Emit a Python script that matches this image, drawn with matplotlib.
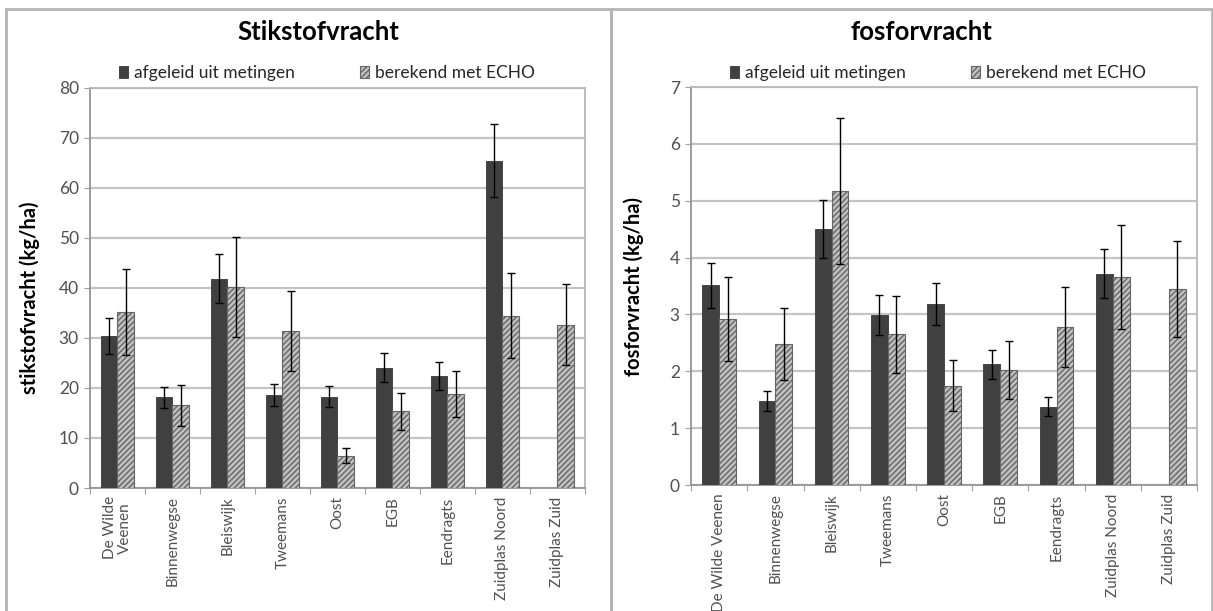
import matplotlib.pyplot as plt
from matplotlib.patches import Rectangle
import numpy as np

plt.rcParams['font.family'] = ['Lato', 'DejaVu Sans']
plt.rcParams['hatch.linewidth'] = 1.0

# gebieden
gebieden_n = ['De Wilde\nVeenen', 'Binnenwegse', 'Bleiswijk', 'Tweemans', 'Oost',
              'EGB', 'Eendragts', 'Zuidplas Noord', 'Zuidplas Zuid']
gebieden_p = ['De Wilde Veenen', 'Binnenwegse', 'Bleiswijk', 'Tweemans', 'Oost',
              'EGB', 'Eendragts', 'Zuidplas Noord', 'Zuidplas Zuid']

# stikstof (kg/ha)
n_meting = [30.3, 18.1, 41.8, 18.5, 18.2, 24.0, 22.3, 65.4, np.nan]
n_meting_err = [3.6, 2.1, 4.9, 2.2, 2.1, 2.9, 2.8, 7.3, np.nan]
n_echo = [35.1, 16.5, 40.1, 31.4, 6.4, 15.3, 18.8, 34.4, 32.6]
n_echo_err = [8.6, 4.1, 10.0, 8.0, 1.5, 3.7, 4.6, 8.5, 8.1]

# fosfor (kg/ha)
p_meting = [3.51, 1.48, 4.51, 2.99, 3.19, 2.12, 1.38, 3.72, np.nan]
p_meting_err = [0.40, 0.18, 0.51, 0.35, 0.37, 0.25, 0.17, 0.43, np.nan]
p_echo = [2.92, 2.48, 5.17, 2.65, 1.75, 2.03, 2.78, 3.66, 3.45]
p_echo_err = [0.74, 0.64, 1.29, 0.68, 0.45, 0.51, 0.71, 0.92, 0.85]

tekst = '#505050'


def staafgrafiek(ax, labels, meting, meting_err, echo, echo_err, ylabel, ymax, stap,
                 labelx, labely):
    x = np.arange(len(labels))
    w = 0.3
    b1 = ax.bar(x - w / 2, meting, w, color='#404040', edgecolor='#383838', linewidth=0.6,
                label='afgeleid uit metingen', zorder=3)
    b2 = ax.bar(x + w / 2, echo, w, color='#c0c0c0', edgecolor='#666666', hatch='//////',
                linewidth=0.8, label='berekend met ECHO', zorder=3)
    ax.errorbar(x - w / 2, meting, yerr=meting_err, fmt='none', ecolor='black',
                elinewidth=1, capsize=3, capthick=1, zorder=4)
    ax.errorbar(x + w / 2, echo, yerr=echo_err, fmt='none', ecolor='black',
                elinewidth=1, capsize=3, capthick=1, zorder=4)

    ax.set_xlim(-0.5, len(labels) - 0.5)
    ax.set_ylim(0, ymax)
    ax.set_yticks(np.arange(0, ymax + stap / 2, stap))
    ax.yaxis.grid(True, color='#c4c4c4', linewidth=1.6, zorder=0)

    # tick marks between categories, labels at the centres
    ax.set_xticks(np.arange(-0.5, len(labels)), minor=False)
    ax.set_xticklabels([])
    ax.set_xticks(x, minor=True)
    ax.set_xticklabels(labels, minor=True, rotation=90, fontsize=11, color=tekst,
                       linespacing=1.0)
    ax.tick_params(axis='x', which='minor', length=0, pad=6)
    ax.tick_params(axis='x', which='major', length=4, color='#a0a0a0')
    ax.tick_params(axis='y', length=4, color='#a0a0a0', labelsize=12.5,
                   labelcolor=tekst, pad=4)

    for s in ax.spines.values():
        s.set_color('#b8b8b8')
        s.set_linewidth(1.3)
    ax.spines['left'].set_color('#949494')
    ax.spines['bottom'].set_color('#949494')

    ax.set_ylabel(ylabel, fontsize=14.5, fontweight='bold', color='black')
    ax.yaxis.set_label_coords(labelx, labely)
    return b1, b2


fig = plt.figure(figsize=(12.13, 6.11), dpi=100)

ax1 = fig.add_axes([0.0742, 0.2013, 0.408, 0.655])
h1 = staafgrafiek(ax1, gebieden_n, n_meting, n_meting_err, n_echo, n_echo_err,
                  'stikstofvracht (kg/ha)', 80, 10, -0.101, 0.475)

ax2 = fig.add_axes([0.5697, 0.2062, 0.4172, 0.6514])
h2 = staafgrafiek(ax2, gebieden_p, p_meting, p_meting_err, p_echo, p_echo_err,
                  'fosforvracht (kg/ha)', 7, 1, -0.093, 0.5)

# titels en legenda's boven de grafieken
for cx, lx, titel, h in [(318, 327, 'Stikstofvracht', h1), (921, 938, 'fosforvracht', h2)]:
    fig.text(cx / 1213, 1 - 32 / 611, titel, ha='center', va='center',
             fontsize=18.5, fontweight='bold', color='black')
    leg = fig.legend(h, ['afgeleid uit metingen', 'berekend met ECHO'], loc='center',
                     bbox_to_anchor=(lx / 1213, 1 - 73 / 611), ncol=2,
                     frameon=False, fontsize=12.5, handlelength=0.55, handleheight=0.75,
                     handletextpad=0.35, columnspacing=3.7, borderaxespad=0)
    for t in leg.get_texts():
        t.set_color('#262626')

# kaders rond beide grafieken
for x0, x1 in [(6, 611), (611, 1212)]:
    fig.patches.append(Rectangle((x0 / 1213, -0.05), (x1 - x0) / 1213, (611 - 9) / 611 + 0.05,
                                 transform=fig.transFigure, fill=False,
                                 edgecolor='#b4b4b4', linewidth=2.0))

fig.savefig('out.png', dpi=100)
